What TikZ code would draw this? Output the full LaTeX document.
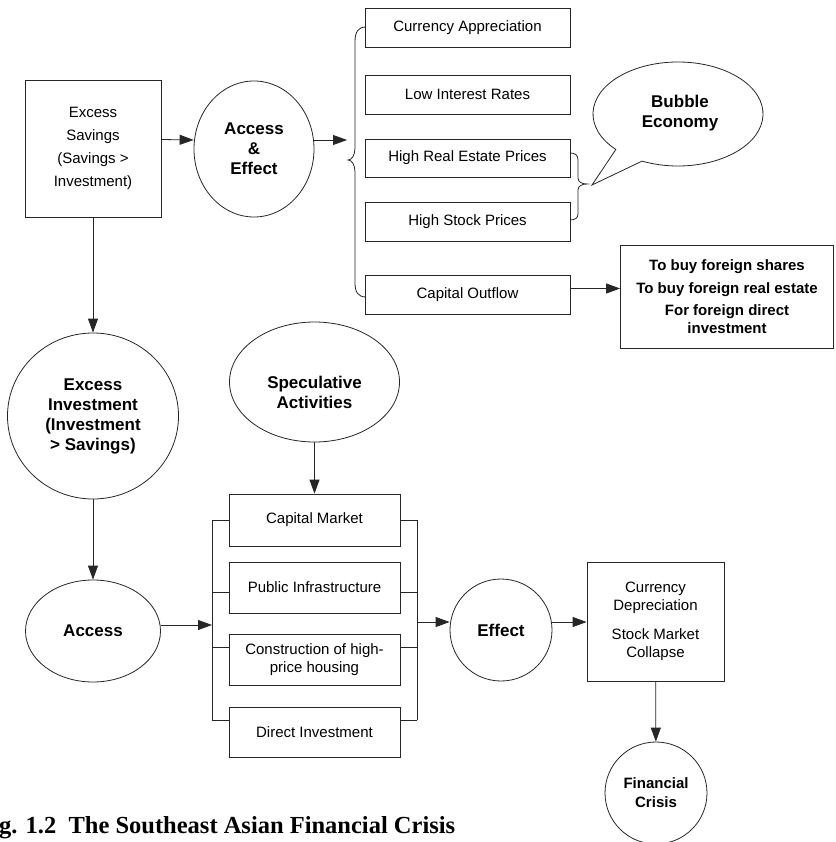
\documentclass[tikz,border=0pt]{standalone}
\usepackage{fontspec}
\setmainfont{Liberation Sans}
\newfontfamily\capfont{Liberation Serif}
\usetikzlibrary{arrows.meta,shapes.geometric,calc}
\begin{document}
\begin{tikzpicture}[x=1pt,y=-1pt]
\tikzset{
 ln/.style={draw=black!85, line width=0.8pt},
 bx/.style={ln, rectangle, inner sep=0pt, align=center, font=\fontsize{15}{18}\selectfont},
 el/.style={ln, ellipse, inner sep=0pt, align=center, font=\fontsize{17}{20}\selectfont\bfseries},
 btxt/.style={inner sep=0pt, align=center, font=\fontsize{17}{20}\selectfont\bfseries},
 arr/.style={ln, -{Triangle[length=14pt,width=10pt]}},
}
\useasboundingbox (0,0) rectangle (835,842);

% top row
\node[bx, minimum width=136pt, minimum height=137pt, font=\fontsize{15}{23}\selectfont] (sav) at (93,148.5) {Excess\\Savings\\(Savings >\\Investment)};
\node[el, minimum width=120pt, minimum height=136pt] (ae) at (254,149) {Access\\\&\\Effect};

\node[bx, minimum width=205pt, minimum height=39pt] (ca)  at (467.5,27.5)  {Currency Appreciation};
\node[bx, minimum width=205pt, minimum height=39pt] (lir) at (467.5,94.5)  {Low Interest Rates};
\node[bx, minimum width=205pt, minimum height=38pt] (hre) at (467.5,158)   {High Real Estate Prices};
\node[bx, minimum width=205pt, minimum height=39pt] (hsp) at (467.5,221.5) {High Stock Prices};
\node[bx, minimum width=205pt, minimum height=39pt] (co)  at (467.5,294.5) {Capital Outflow};

\node[bx, minimum width=213pt, minimum height=103pt, font=\fontsize{15}{18}\selectfont\bfseries] (fb) at (727,296.5)
 {To buy foreign shares\\[5pt]To buy foreign real estate\\[4pt]For foreign direct\\investment};

% bubble economy callout
\coordinate (bc) at (678,114);
\coordinate (btip) at (592,185);
\draw[ln] (btip) -- ([shift={(223:85pt and 52pt)}]bc) arc[start angle=223, end angle=-115, x radius=85pt, y radius=52pt] -- cycle;
\node[btxt] (bub) at (680,113) {Bubble\\Economy};

% big brace
\draw[ln] (366,27) .. controls (358,27) and (355,32) .. (355,42) -- (355,148)
  .. controls (355,155) and (352,160) .. (348,160)
  .. controls (352,160) and (355,165) .. (355,172) -- (355,283)
  .. controls (355,292) and (358,297) .. (366,297);
% small brace
\draw[ln] (570,153) .. controls (575,153) and (578,155) .. (578,160) -- (578,178)
  .. controls (578,182) and (582,184) .. (587,184)
  .. controls (582,184) and (578,186) .. (578,190) -- (578,214)
  .. controls (578,218) and (575,220) .. (570,220);

% top arrows
\coordinate (bt) at (347,140);
\draw[arr] ([yshift=9pt]sav.east) -- ([yshift=9pt]ae.west);
\draw[arr] ([yshift=9pt]ae.east) -- (bt);
\coordinate (coA) at ([yshift=6pt]co.east);
\draw[arr] (coA) -- (coA -| fb.west);

% left column
\node[el, minimum width=171pt, minimum height=166pt] (exinv) at (93,416) {Excess\\Investment\\(Investment\\> Savings)};
\node[el, minimum width=135pt, minimum height=102pt] (acc) at (93,631) {Access};
\draw[arr] (sav) -- (exinv);
\draw[arr] (exinv) -- (acc);

% speculative
\node[el, minimum width=170pt, minimum height=120pt] (spec) at (314.5,382) {};
\node[btxt] (spect) at (314.5,392) {Speculative\\Activities};

% middle boxes
\node[bx, minimum width=171pt, minimum height=52pt] (cm) at (314.5,520) {Capital Market};
\node[bx, minimum width=171pt, minimum height=51pt] (pi) at (314.5,587.5) {Public Infrastructure};
\node[bx, minimum width=171pt, minimum height=51pt] (ch) at (314.5,659.5) {Construction of high-\\price housing};
\node[bx, minimum width=171pt, minimum height=50pt] (di) at (314.5,732) {Direct Investment};
\draw[arr] (spec) -- (cm);

% buses
\coordinate (l1) at (212,520);
\coordinate (l2) at (212,592);
\coordinate (l3) at (212,647);
\coordinate (l4) at (212,720);
\coordinate (r1) at (417,520);
\coordinate (r4) at (417,720);
\coordinate (lin) at (212,625);
\coordinate (rout) at (417,622);
\draw[ln] (l1) -- (l4);
\draw[ln] (r1) -- (r4);
\draw[ln] (l1) -- (l1 -| cm.west);
\draw[ln] (l2) -- (l2 -| pi.west);
\draw[ln] (l3) -- (l3 -| ch.west);
\draw[ln] (l4) -- (l4 -| di.west);
\draw[ln] (l1 -| cm.east) -- (r1);
\draw[ln] (l2 -| pi.east) -- (l2 -| r1);
\draw[ln] (l3 -| ch.east) -- (l3 -| r1);
\draw[ln] (l4 -| di.east) -- (r4);
\draw[arr] (lin -| acc.east) -- (lin);

% effect and result
\node[el, circle, minimum size=102pt] (eff) at (501,630) {Effect};
\node[bx, minimum width=137pt, minimum height=119pt] (dep) at (655.5,621.5) {Currency\\Depreciation\\[11pt]Stock Market\\Collapse};
\node[el, circle, minimum size=102pt, font=\fontsize{15}{19}\selectfont\bfseries] (fc) at (656,793) {Financial\\Crisis};
\draw[arr] (rout) -- (rout -| eff.west);
\draw[arr] (rout -| eff.east) -- (rout -| dep.west);
\draw[arr] (dep) -- (fc);

% caption
\node[anchor=base west, inner sep=0pt, font=\fontsize{24.5}{28}\selectfont\capfont\bfseries] (cap) at (-1,833) {g. 1.2\hspace{0.25em} The Southeast Asian Financial Crisis};
\end{tikzpicture}
\end{document}
